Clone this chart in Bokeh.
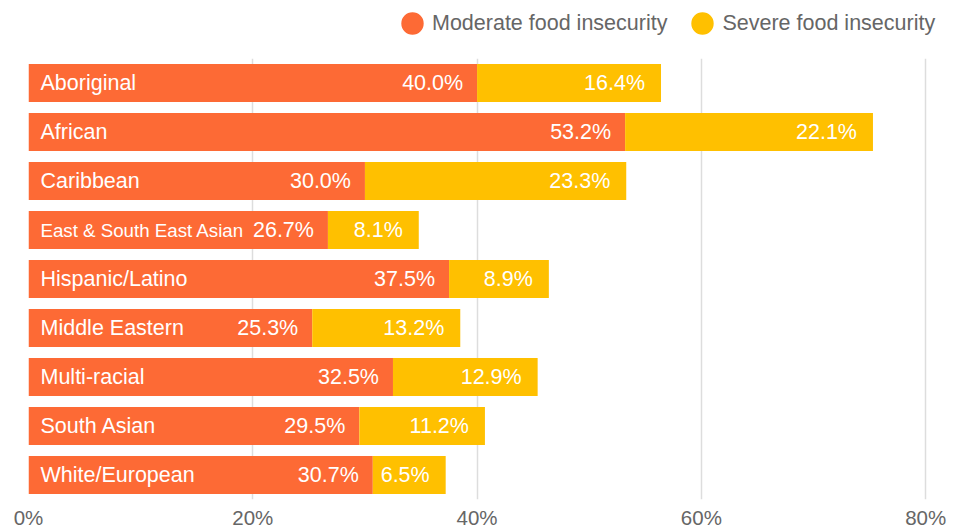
from bokeh.plotting import figure
from bokeh.layouts import column
from bokeh.models import ColumnDataSource, FactorRange, Range1d, FixedTicker, PrintfTickFormatter, Legend, LegendItem
from bokeh.core.properties import value
from bokeh.embed import file_html
from bokeh.resources import INLINE

categories = ["Aboriginal", "African", "Caribbean", "East & South East Asian", "Hispanic/Latino",
              "Middle Eastern", "Multi-racial", "South Asian", "White/European"]
moderate = [40.0, 53.2, 30.0, 26.7, 37.5, 25.3, 32.5, 29.5, 30.7]
severe = [16.4, 22.1, 23.3, 8.1, 8.9, 13.2, 12.9, 11.2, 6.5]
x_ticks = [0, 20, 40, 60, 80]
series_names = ["Moderate food insecurity", "Severe food insecurity"]

ORANGE = "#FD6A35"
YELLOW = "#FFC000"
FONT = "Liberation Sans"

name_sizes = ["18.7px" if len(c) > 20 else "21.5px" for c in categories]

src = ColumnDataSource(dict(
    cat=categories,
    moderate=moderate,
    severe=severe,
    total=[m + s for m, s in zip(moderate, severe)],
    mod_lbl=["%.1f%%" % m for m in moderate],
    sev_lbl=["%.1f%%" % s for s in severe],
    name_size=name_sizes,
))

# ---- legend strip on top ----
lg = figure(width=953, height=50, x_range=Range1d(0, 1), y_range=Range1d(0, 1),
            output_backend="svg", toolbar_location=None,
            x_axis_location=None, y_axis_location=None,
            min_border_left=0, min_border_right=0, min_border_top=0, min_border_bottom=0)
lg.outline_line_color = None
lg.grid.visible = False
# placeholder (not-a-number) point so the legend has a glyph to draw; nothing shows in the strip itself
legend_src = ColumnDataSource(dict(x=[float("nan")], y=[float("nan")]))
r1 = lg.ellipse(x="x", y="y", width=10, height=10, width_units="screen", height_units="screen",
                fill_color=ORANGE, line_color=None, source=legend_src)
r2 = lg.ellipse(x="x", y="y", width=10, height=10, width_units="screen", height_units="screen",
                fill_color=YELLOW, line_color=None, source=legend_src)
legend = Legend(items=[LegendItem(label=series_names[0], renderers=[r1]),
                       LegendItem(label=series_names[1], renderers=[r2])],
                orientation="horizontal", location=(370, 13),
                border_line_color=None, background_fill_alpha=0,
                label_text_font=FONT, label_text_font_size="21.5px", label_text_color="#666666",
                glyph_width=28, glyph_height=28, label_standoff=6, spacing=21,
                padding=0, margin=0)
lg.add_layout(legend, "center")

# ---- main chart ----
p = figure(width=953, height=481,
           y_range=FactorRange(factors=list(reversed(categories))),
           x_range=Range1d(0, 81.5),
           output_backend="svg", toolbar_location=None,
           min_border_left=28, min_border_right=11, min_border_top=8, min_border_bottom=32)
p.outline_line_color = None
p.background_fill_color = "white"
p.border_fill_color = "white"

p.hbar(y="cat", left=0, right="moderate", height=0.78, fill_color=ORANGE, line_color=None, source=src)
p.hbar(y="cat", left="moderate", right="total", height=0.78, fill_color=YELLOW, line_color=None, source=src)

p.text(x=0, y="cat", text="cat", x_offset=12, text_align="left", text_baseline="middle",
       text_color="white", text_font=value(FONT), text_font_size="name_size", source=src)
p.text(x="moderate", y="cat", text="mod_lbl", x_offset=-14, text_align="right", text_baseline="middle",
       text_color="white", text_font=value(FONT), text_font_size=value("21.5px"), source=src)
p.text(x="total", y="cat", text="sev_lbl", x_offset=-16, text_align="right", text_baseline="middle",
       text_color="white", text_font=value(FONT), text_font_size=value("21.5px"), source=src)

p.yaxis.visible = False
p.ygrid.grid_line_color = None
p.xaxis.ticker = FixedTicker(ticks=x_ticks)
p.xaxis.formatter = PrintfTickFormatter(format="%d%%")
p.xaxis.axis_line_color = None
p.xaxis.major_tick_line_color = None
p.xaxis.minor_tick_line_color = None
p.xaxis.major_label_standoff = 0
p.xaxis.major_label_text_font = FONT
p.xaxis.major_label_text_font_size = "20.5px"
p.xaxis.major_label_text_color = "#666666"
p.xgrid.ticker = FixedTicker(ticks=x_ticks)
p.xgrid.grid_line_color = "#dddddd"
p.xgrid.grid_line_width = 1.5

layout = column(lg, p, spacing=0)
open("out.html", "w").write(file_html(layout, INLINE))
